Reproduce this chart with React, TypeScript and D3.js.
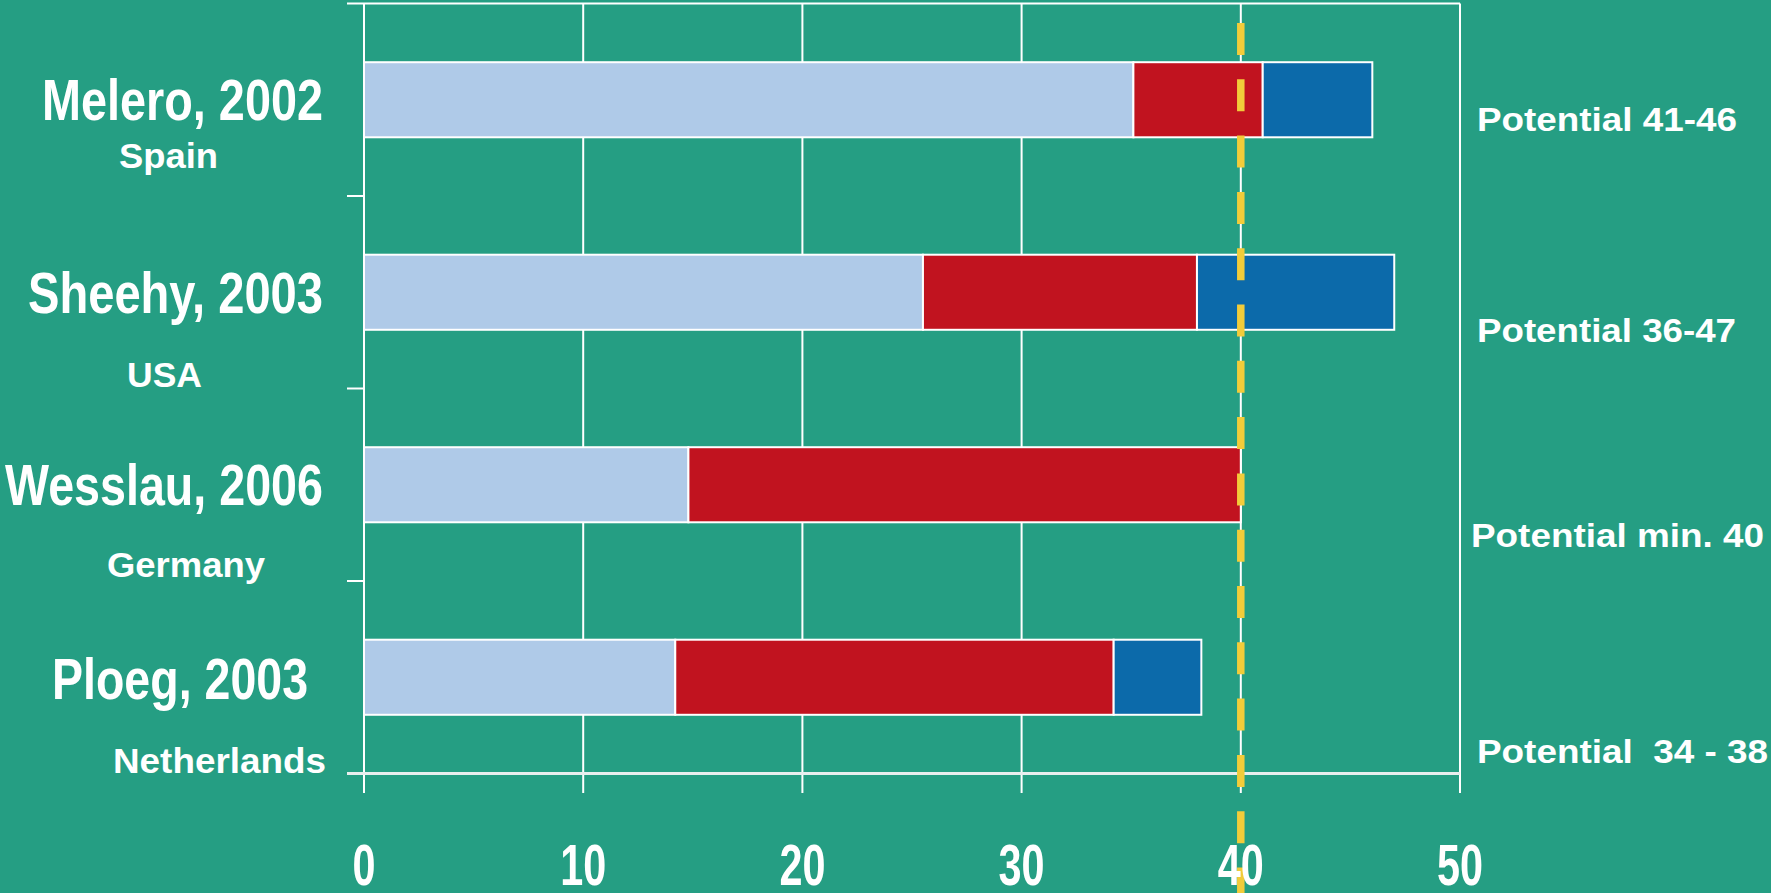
import * as React from 'react';
import * as d3 from 'd3';

// data
const studies = ['Melero, 2002', 'Sheehy, 2003', 'Wesslau, 2006', 'Ploeg, 2003'];
const countries = ['Spain', 'USA', 'Germany', 'Netherlands'];
const potentials = ['Potential 41-46', 'Potential 36-47', 'Potential min. 40', 'Potential  34 - 38'];
const baseValues = [35.1, 25.5, 14.8, 14.2];
const redValues = [5.9, 12.5, 25.2, 20.0];
const blueValues = [5.0, 9.0, 0, 4.0];
const xTicks = [0, 10, 20, 30, 40, 50];
const referenceValue = 40;

const seriesKeys = ['base', 'red', 'blue'];
const colors = { base: '#AFCAE8', red: '#C1131F', blue: '#0C6AAA' };

// text layout: [left x, width, baseline offset from band centre]
const studyLayout = [[42, 281, 20], [28, 295, 21], [5, 318, 20], [52, 256, 21.5]];
const countryLayout = [[119, 99, 68], [127, 75, 95], [107, 158, 92], [113, 213, 95.5]];
const potentialLayout = [[1477, 260, 31], [1477, 259, 50], [1471, 293, 62], [1477, 291, 85.5]];

const W = 1771;
const H = 893;
const BG = '#259E83';
const FONT = '"Liberation Sans", Arial, sans-serif';

export default function App() {
  const x = d3.scaleLinear().domain([0, 50]).range([364, 1460]);
  const y = d3.scaleBand().domain(studies).range([3.5, 773.5]).paddingInner(0.61).paddingOuter(0.305);
  const step = y.step();
  const top = 3.5;

  const rows = studies.map((s, i) => ({ study: s, base: baseValues[i], red: redValues[i], blue: blueValues[i] }));
  const stacked = d3.stack().keys(seriesKeys)(rows as any);

  const bandTops = d3.range(studies.length + 1).map(i => top + i * step);

  return (
    <svg width={W} height={H} style={{ position: 'absolute', left: 0, top: 0, display: 'block' }}>
      <rect width={W} height={H} fill={BG} />

      {/* vertical grid lines */}
      {xTicks.map(t => (
        <line key={t} x1={x(t)} x2={x(t)} y1={top} y2={793} stroke="#fff" strokeWidth={2} />
      ))}
      {/* top frame + category ticks */}
      {bandTops.map((b, i) => (
        <line key={i} x1={347} x2={i === 0 || i === studies.length ? 1460 : 364} y1={b} y2={b}
          stroke={i === studies.length ? '#E8EEEE' : '#fff'} strokeWidth={i === studies.length ? 3 : 2} />
      ))}

      {/* stacked bars */}
      {stacked.map(layer => (
        <g key={layer.key} fill={(colors as any)[layer.key]}>
          {layer.map((d, i) => d[1] - d[0] > 0 ? (
            <rect key={i} x={x(d[0])} width={x(d[1]) - x(d[0])} y={y(studies[i])} height={y.bandwidth()}
              stroke="#fff" strokeWidth={2} />
          ) : null)}
        </g>
      ))}

      {/* reference line */}
      <line x1={x(referenceValue)} x2={x(referenceValue)} y1={23} y2={H} stroke="#F2CC3A"
        strokeWidth={7.5} strokeDasharray="32 24.3" />

      {/* left labels */}
      {studies.map((s, i) => {
        const c = (y(s) as number) + y.bandwidth() / 2;
        const [sx, sw, sdy] = studyLayout[i];
        const [cx, cw, cdy] = countryLayout[i];
        return (
          <g key={s} fill="#fff" fontFamily={FONT} fontWeight="bold">
            <text x={sx} y={c + sdy} fontSize={58} textLength={sw} lengthAdjust="spacingAndGlyphs">{s}</text>
            <text x={cx} y={c + cdy} fontSize={35} textLength={cw} lengthAdjust="spacingAndGlyphs">{countries[i]}</text>
          </g>
        );
      })}

      {/* right notes */}
      {potentials.map((p, i) => {
        const c = (y(studies[i]) as number) + y.bandwidth() / 2;
        const [px, pw, pdy] = potentialLayout[i];
        return (
          <text key={p} x={px} y={c + pdy} fill="#fff" fontFamily={FONT} fontWeight="bold" fontSize={34}
            textLength={pw} lengthAdjust="spacingAndGlyphs" style={{ whiteSpace: 'pre' }}>{p}</text>
        );
      })}

      {/* x tick labels */}
      {xTicks.map(t => {
        const label = String(t);
        const w = 23 * label.length;
        return (
          <text key={t} x={x(t) - w / 2} y={885} fill="#fff" fontFamily={FONT} fontWeight="bold" fontSize={58}
            textLength={w} lengthAdjust="spacingAndGlyphs">{label}</text>
        );
      })}
    </svg>
  );
}
